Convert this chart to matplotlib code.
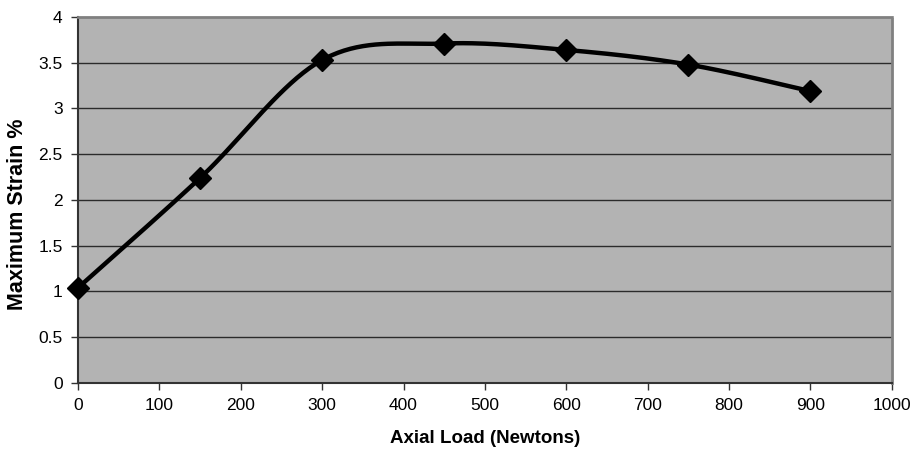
import numpy as np
import matplotlib
matplotlib.use("Agg")
import matplotlib.pyplot as plt

plt.rcParams["font.family"] = ["Liberation Sans", "DejaVu Sans"]

loads = [0, 150, 300, 450, 600, 750, 900]
strain = [1.04, 2.24, 3.53, 3.71, 3.64, 3.48, 3.19]
x_ticks = [0, 100, 200, 300, 400, 500, 600, 700, 800, 900, 1000]
y_ticks = [0, 0.5, 1, 1.5, 2, 2.5, 3, 3.5, 4]
y_tick_labels = ["0", "0.5", "1", "1.5", "2", "2.5", "3", "3.5", "4"]


def smooth_line(xs, ys, n=40):
    # spreadsheet-style smoothed line: cubic Bezier with Catmull-Rom control points
    xs = np.asarray(xs, float)
    ys = np.asarray(ys, float)
    px = np.concatenate([[xs[0]], xs, [xs[-1]]])
    py = np.concatenate([[ys[0]], ys, [ys[-1]]])
    out_x, out_y = [], []
    t = np.linspace(0, 1, n)
    for i in range(1, len(px) - 2):
        p0 = np.array([px[i], py[i]])
        p3 = np.array([px[i + 1], py[i + 1]])
        c1 = p0 + (np.array([px[i + 1], py[i + 1]]) - np.array([px[i - 1], py[i - 1]])) / 6
        c2 = p3 - (np.array([px[i + 2], py[i + 2]]) - np.array([px[i], py[i]])) / 6
        b = ((1 - t) ** 3)[:, None] * p0 + (3 * (1 - t) ** 2 * t)[:, None] * c1 \
            + (3 * (1 - t) * t ** 2)[:, None] * c2 + (t ** 3)[:, None] * p3
        out_x.extend(b[:, 0])
        out_y.extend(b[:, 1])
    return out_x, out_y


fig = plt.figure(figsize=(9.11, 4.51), dpi=100)
ax = fig.add_axes([0.0856, 0.1508, 0.8934, 0.8115])
ax.set_facecolor("#b3b3b3")

for y in y_ticks[1:-1]:
    ax.axhline(y, color="#2b2b2b", lw=1.0, zorder=1)

sx, sy = smooth_line(loads, strain)
ax.plot(sx, sy, color="black", lw=3.2, zorder=3, solid_capstyle="round")
ax.plot(loads, strain, "D", color="black", ms=11, zorder=4, clip_on=False)

ax.set_xlim(0, 1000)
ax.set_ylim(0, 4)
ax.set_xticks(x_ticks)
ax.set_yticks(y_ticks)
ax.set_yticklabels(y_tick_labels)
ax.tick_params(direction="out", length=5, width=1, color="#333333", labelsize=12.5, pad=6)

for side in ["top", "right"]:
    ax.spines[side].set_color("#808080")
    ax.spines[side].set_linewidth(2)
    ax.spines[side].set_linestyle((0, (1, 1)))
for side in ["left", "bottom"]:
    ax.spines[side].set_color("#333333")
    ax.spines[side].set_linewidth(1.5)

ax.set_xlabel("Axial Load (Newtons)", fontsize=13.5, fontweight="bold", labelpad=12)
ax.set_ylabel("Maximum Strain %", fontsize=15.5, fontweight="bold")
ax.yaxis.set_label_coords(-0.062, 0.46)

fig.savefig("out.png", dpi=100)
